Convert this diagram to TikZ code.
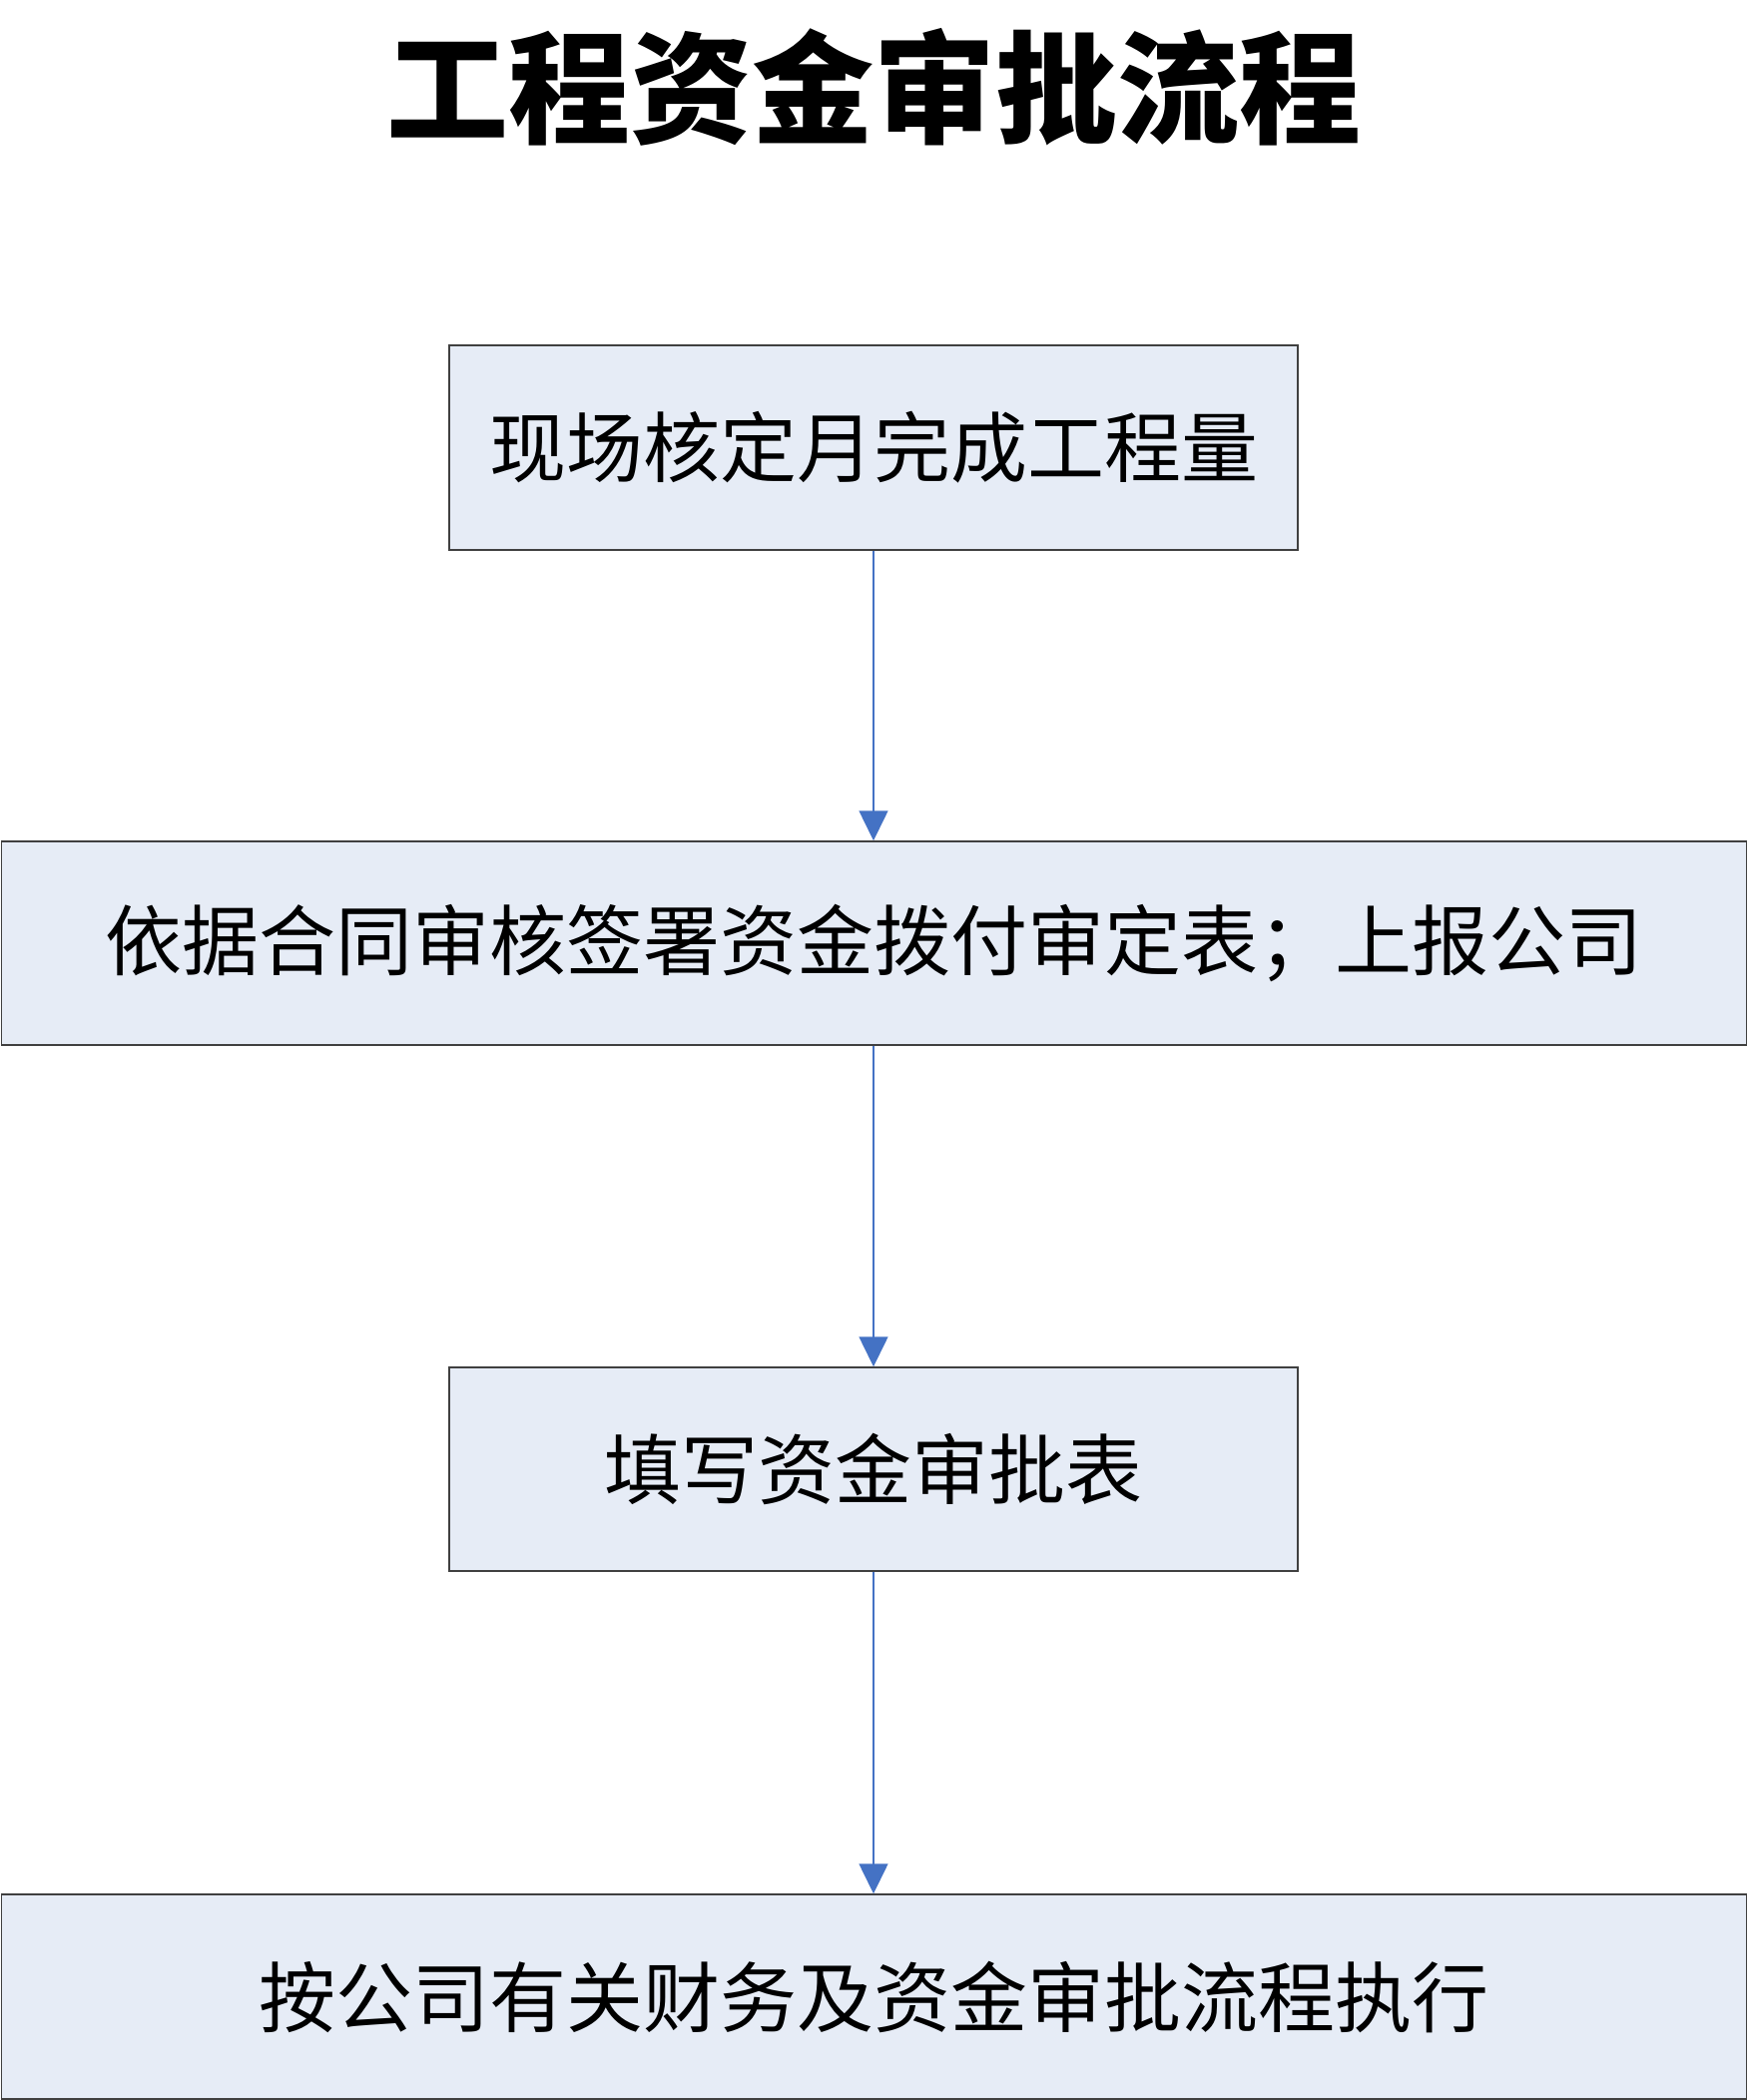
\documentclass[tikz,border=0pt]{standalone}
\usepackage{fontspec}
\newfontfamily\cjk{Noto Sans CJK SC}
\usetikzlibrary{arrows.meta}
\definecolor{boxfill}{HTML}{E6ECF6}
\definecolor{boxline}{HTML}{404040}
\definecolor{arrowblue}{HTML}{4472C4}
\begin{document}
\begin{tikzpicture}[x=1pt,y=-1pt,
  stepbox/.style={draw=boxline,fill=boxfill,line width=1.5pt,inner sep=0pt,
    font=\cjk\fontsize{77}{90}\selectfont},
  flow/.style={draw=arrowblue,line width=1.5pt,-{Triangle[width=29pt,length=30pt]}}]
\useasboundingbox (0,0) rectangle (1751,2104);
\node[font=\cjk\bfseries\fontsize{122}{140}\selectfont,inner sep=0pt] (title) at (875,87) {工程资金审批流程};
\node[stepbox,minimum width=850pt,minimum height=205pt] (b1) at (875,448.5) {现场核定月完成工程量};
\node[stepbox,minimum width=1748pt,minimum height=204pt] (b2) at (875.5,945) {依据合同审核签署资金拨付审定表；上报公司};
\node[stepbox,minimum width=850pt,minimum height=204pt] (b3) at (875,1472) {填写资金审批表};
\node[stepbox,minimum width=1748pt,minimum height=205pt] (b4) at (875.5,2000.5) {按公司有关财务及资金审批流程执行};
\draw[flow] (b1.south) -- (b1.south |- b2.north);
\draw[flow] (b2.south -| b1.south) -- (b3.north);
\draw[flow] (b3.south) -- (b3.south |- b4.north);
\end{tikzpicture}
\end{document}
